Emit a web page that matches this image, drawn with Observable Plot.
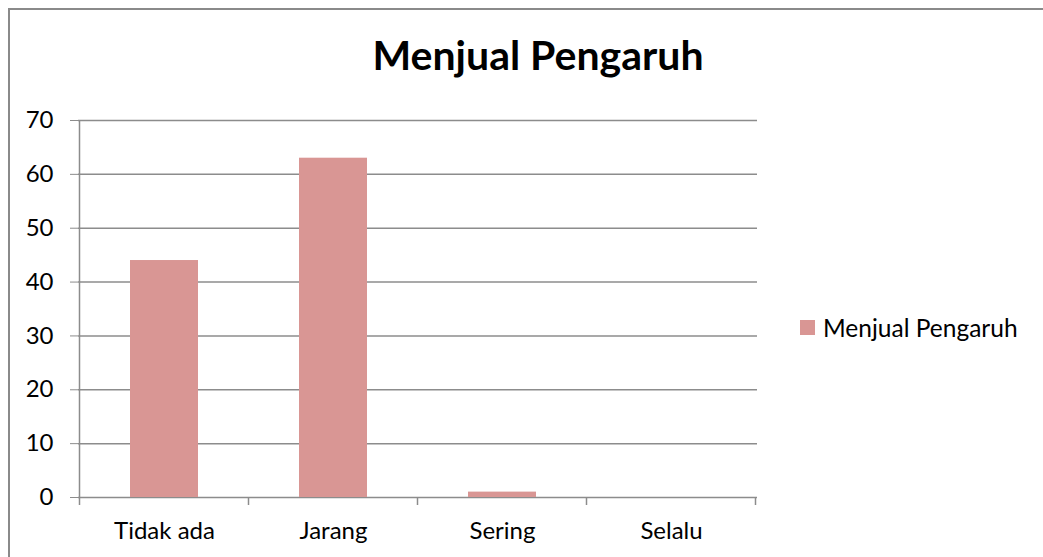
<!DOCTYPE html>
<html>
<head>
<meta charset="utf-8">
<script src="https://cdn.jsdelivr.net/npm/d3@7"></script>
<script src="https://cdn.jsdelivr.net/npm/@observablehq/plot@0.6"></script>
<style>
  html, body { margin: 0; padding: 0; background: #fff; }
  #wrap { position: relative; width: 1043px; height: 557px; overflow: hidden; font-family: Lato, "Open Sans", sans-serif; }
  #frame { position: absolute; left: 8px; top: 8px; width: 1100px; height: 600px; border: 2px solid #8a8a8a; box-sizing: border-box; }
  #title { position: absolute; left: 0; top: 30px; width: 1076px; text-align: center; font-size: 41px; font-weight: bold; color: #000; }
  #chart { position: absolute; left: 0; top: 0; }
  #legend { position: absolute; left: 800px; top: 313px; display: flex; align-items: center; font-size: 24.5px; color: #000; }
  #legend .sw { width: 15px; height: 15px; background: #D99694; margin-right: 8px; }
</style>
</head>
<body>
<div id="wrap">
  <div id="frame"></div>
  <div id="chart"></div>
  <div id="title">Menjual Pengaruh</div>
  <div id="legend"><div class="sw"></div><span>Menjual Pengaruh</span></div>
</div>
<script>
const categories = ["Tidak ada", "Jarang", "Sering", "Selalu"];
const values = [44, 63, 1, 0];
const yTicks = [0, 10, 20, 30, 40, 50, 60, 70];
const seriesName = "Menjual Pengaruh";

const data = categories.map((c, i) => ({category: c, value: values[i]}));

const plot = Plot.plot({
  width: 1043,
  height: 557,
  marginLeft: 78,
  marginRight: 286,
  marginTop: 120,
  marginBottom: 60,
  style: {fontFamily: "Lato, 'Open Sans', sans-serif", fontSize: "24px", color: "#000", background: "transparent"},
  x: {domain: categories, paddingInner: 0.6, paddingOuter: 0.3, label: null},
  y: {domain: [0, 70], label: null},
  marks: [
    Plot.ruleY(yTicks, {stroke: "#8c8c8c", strokeWidth: 1.5}),
    Plot.barY(data, {x: "category", y: "value", fill: "#D99694"}),
    Plot.axisY({ticks: yTicks, tickSize: 8, tickPadding: 17, stroke: "#8c8c8c", fill: "#000", fontSize: 24}),
    Plot.axisX({tickSize: 0, tickPadding: 24, fontSize: 24, fill: "#000"})
  ]
});
document.getElementById("chart").appendChild(plot);

// category boundary tick marks and vertical axis line, positioned via Plot's scales
const xs = plot.scale("x");
const ys = plot.scale("y");
const svg = d3.select(plot);
const step = xs.step;
const gap = (step - xs.bandwidth) / 2;
const bounds = categories.map((c) => xs.apply(c) - gap)
  .concat([xs.apply(categories[categories.length - 1]) + xs.bandwidth + gap]);
const g = svg.append("g").attr("stroke", "#8c8c8c").attr("stroke-width", 1.5);
g.selectAll("line.t").data(bounds).join("line").attr("class", "t")
  .attr("x1", d => d).attr("x2", d => d)
  .attr("y1", ys.apply(0)).attr("y2", ys.apply(0) + 8);
g.append("line")
  .attr("x1", bounds[0]).attr("x2", bounds[0])
  .attr("y1", ys.apply(0)).attr("y2", ys.apply(70));
</script>
</body>
</html>
